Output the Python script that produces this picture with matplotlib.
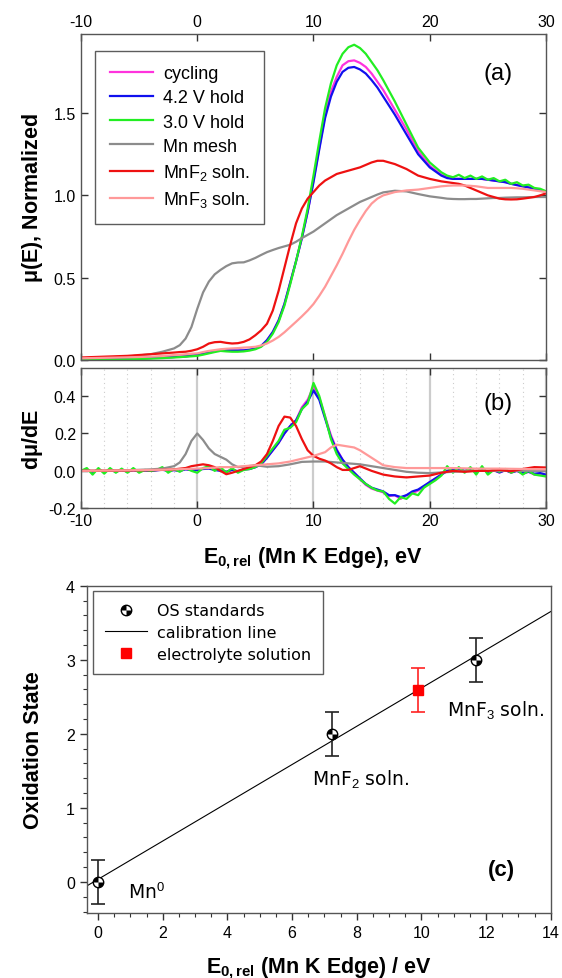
import matplotlib
matplotlib.use('Agg')
import matplotlib.pyplot as plt
from matplotlib.path import Path
from matplotlib.lines import Line2D
from matplotlib.legend_handler import HandlerTuple
import numpy as np

plt.rcParams['font.family'] = 'Liberation Sans'
plt.rcParams['mathtext.fontset'] = 'custom'
plt.rcParams['mathtext.rm'] = 'Liberation Sans'
plt.rcParams['mathtext.it'] = 'Liberation Sans:italic'
plt.rcParams['mathtext.bf'] = 'Liberation Sans:bold'
plt.rcParams['axes.unicode_minus'] = False

###
# (a) normalized XANES, mu(E)
###
e_mu = [-10, -8, -6, -4, -3, -2, -1.5, -1, -0.5, 0, 0.5, 1, 1.5, 2, 2.5, 3,
        3.5, 4, 4.5, 5, 5.5, 6, 6.5, 7, 7.5, 8, 8.5, 9, 9.5, 10, 10.5, 11,
        11.5, 12, 12.5, 13, 13.5, 14, 14.5, 15, 15.5, 16, 17, 18, 19, 20,
        21, 21.5, 22, 22.5, 23, 23.5, 24, 24.5, 25, 25.5, 26, 26.5, 27, 27.5,
        28, 28.5, 29, 29.5, 30]

mu_cycling = [0.005, 0.006, 0.008, 0.012, 0.015, 0.018, 0.02, 0.022, 0.026,
              0.03, 0.038, 0.045, 0.053, 0.06, 0.06, 0.058, 0.057, 0.058,
              0.062, 0.07, 0.085, 0.12, 0.17, 0.24, 0.34, 0.47, 0.6, 0.74,
              0.9, 1.09, 1.29, 1.49, 1.63, 1.72, 1.79, 1.815, 1.82, 1.805,
              1.78, 1.74, 1.69, 1.64, 1.52, 1.40, 1.27, 1.18, 1.125, 1.11,
              1.10, 1.10, 1.10, 1.10, 1.10, 1.10, 1.095, 1.09, 1.085, 1.08,
              1.07, 1.065, 1.055, 1.05, 1.04, 1.03, 1.025]
mu_hold42 = [0.005, 0.006, 0.008, 0.012, 0.015, 0.018, 0.02, 0.022, 0.026,
             0.03, 0.038, 0.045, 0.053, 0.06, 0.06, 0.058, 0.057, 0.058,
             0.062, 0.07, 0.085, 0.12, 0.17, 0.24, 0.34, 0.47, 0.6, 0.74,
             0.9, 1.08, 1.28, 1.47, 1.6, 1.69, 1.75, 1.775, 1.78, 1.765,
             1.74, 1.70, 1.655, 1.60, 1.49, 1.37, 1.25, 1.17, 1.12, 1.105,
             1.10, 1.10, 1.10, 1.10, 1.10, 1.10, 1.095, 1.09, 1.085, 1.08,
             1.07, 1.062, 1.055, 1.048, 1.04, 1.03, 1.022]
mu_hold30 = [0.0, 0.002, 0.004, 0.008, 0.011, 0.015, 0.017, 0.02, 0.022,
             0.025, 0.032, 0.04, 0.048, 0.055, 0.052, 0.05, 0.05, 0.052,
             0.057, 0.065, 0.08, 0.11, 0.16, 0.23, 0.33, 0.46, 0.6, 0.75,
             0.92, 1.12, 1.33, 1.53, 1.68, 1.79, 1.86, 1.90, 1.915, 1.895,
             1.86, 1.81, 1.76, 1.70, 1.57, 1.43, 1.29, 1.20, 1.14, 1.12,
             1.11, 1.125, 1.105, 1.12, 1.10, 1.115, 1.095, 1.105, 1.085,
             1.095, 1.07, 1.08, 1.06, 1.065, 1.045, 1.04, 1.025]
mu_mesh = [0.01, 0.015, 0.02, 0.035, 0.05, 0.07, 0.09, 0.13, 0.2, 0.31, 0.41,
           0.476, 0.52, 0.547, 0.57, 0.587, 0.592, 0.593, 0.605, 0.62, 0.638,
           0.655, 0.668, 0.68, 0.69, 0.70, 0.718, 0.74, 0.76, 0.78, 0.805,
           0.83, 0.855, 0.88, 0.90, 0.92, 0.94, 0.96, 0.975, 0.99, 1.005,
           1.018, 1.028, 1.024, 1.008, 0.994, 0.985, 0.98, 0.978, 0.977,
           0.977, 0.978, 0.978, 0.98, 0.982, 0.984, 0.984, 0.986, 0.987,
           0.988, 0.988, 0.989, 0.99, 0.99, 0.99]
mu_mnf2 = [0.015, 0.02, 0.025, 0.035, 0.04, 0.045, 0.048, 0.05, 0.056, 0.065,
           0.08, 0.1, 0.108, 0.11, 0.104, 0.1, 0.102, 0.11, 0.125, 0.15, 0.18,
           0.22, 0.3, 0.42, 0.56, 0.70, 0.83, 0.92, 0.98, 1.02, 1.06, 1.09,
           1.11, 1.13, 1.14, 1.15, 1.16, 1.17, 1.185, 1.20, 1.21, 1.21, 1.19,
           1.16, 1.12, 1.10, 1.085, 1.08, 1.075, 1.07, 1.06, 1.045, 1.03,
           1.015, 1.0, 0.99, 0.98, 0.976, 0.975, 0.976, 0.98, 0.985, 0.99,
           1.0, 1.012]
mu_mnf3 = [0.01, 0.013, 0.016, 0.02, 0.024, 0.03, 0.032, 0.035, 0.038, 0.04,
           0.048, 0.055, 0.06, 0.065, 0.068, 0.07, 0.072, 0.075, 0.077, 0.08,
           0.088, 0.1, 0.118, 0.14, 0.168, 0.2, 0.232, 0.265, 0.3, 0.34,
           0.39, 0.445, 0.51, 0.575, 0.645, 0.72, 0.79, 0.85, 0.905, 0.95,
           0.98, 1.0, 1.02, 1.03, 1.035, 1.045, 1.055, 1.058, 1.06, 1.06,
           1.06, 1.058, 1.055, 1.05, 1.045, 1.045, 1.045, 1.045, 1.045,
           1.043, 1.04, 1.035, 1.03, 1.025, 1.02]

###
# (b) first derivative, dmu/dE
###
e_d = [-10, -9.5, -9, -8.5, -8, -7.5, -7, -6.5, -6, -5.5, -5, -4.5, -4, -3.5,
       -3, -2.5, -2, -1.5, -1, -0.5, 0, 0.5, 1, 1.5, 2, 2.5, 3, 3.5, 4, 4.5,
       5, 5.5, 6, 6.5, 7, 7.5, 8, 8.5, 9, 9.5, 10, 10.5, 11, 11.5, 12, 12.5,
       13, 13.5, 14, 14.5, 15, 15.5, 16, 16.5, 17, 17.5, 18, 18.5, 19, 19.5,
       20, 20.5, 21, 21.5, 22, 22.5, 23, 23.5, 24, 24.5, 25, 25.5, 26, 26.5,
       27, 27.5, 28, 28.5, 29, 29.5, 30]

d_cycling = [0.0, 0.006, -0.006, 0.005, -0.005, 0.005, -0.004, 0.004, -0.004,
             0.005, -0.003, 0.003, 0.0, 0.004, 0.008, 0.0, 0.005, 0.0, 0.01,
             0.005, 0.005, 0.012, 0.015, 0.005, 0.005, -0.005, 0.008, -0.004,
             0.008, 0.01, 0.02, 0.035, 0.07, 0.11, 0.15, 0.2, 0.24, 0.27,
             0.34, 0.38, 0.45, 0.39, 0.29, 0.19, 0.115, 0.06, 0.02, -0.01,
             -0.045, -0.075, -0.095, -0.105, -0.115, -0.135, -0.13, -0.15,
             -0.13, -0.12, -0.105, -0.085, -0.06, -0.04, -0.02, 0.0, 0.005,
             0.012, -0.003, 0.01, -0.008, 0.01, -0.005, 0.005, -0.01, 0.005,
             -0.01, 0.0, -0.015, -0.005, -0.02, -0.015, -0.025]
d_hold42 = [0.0, 0.004, -0.004, 0.003, -0.003, 0.003, -0.003, 0.003, -0.003,
            0.003, -0.002, 0.002, 0.0, 0.003, 0.006, 0.0, 0.004, 0.0, 0.008,
            0.005, 0.005, 0.01, 0.012, 0.005, 0.0, -0.005, 0.005, -0.002,
            0.008, 0.01, 0.02, 0.035, 0.07, 0.11, 0.15, 0.2, 0.24, 0.27,
            0.33, 0.37, 0.43, 0.38, 0.28, 0.18, 0.11, 0.06, 0.02, -0.01,
            -0.04, -0.07, -0.09, -0.1, -0.11, -0.13, -0.13, -0.14, -0.13,
            -0.11, -0.1, -0.08, -0.06, -0.04, -0.02, 0.0, 0.005, 0.01, 0.0,
            0.008, -0.005, 0.008, -0.005, 0.003, -0.008, 0.003, -0.008, 0.0,
            -0.012, -0.005, -0.015, -0.012, -0.02]
d_hold30 = [0.0, 0.015, -0.02, 0.015, -0.015, 0.015, -0.01, 0.012, -0.01,
            0.015, -0.01, 0.005, 0.0, 0.005, 0.02, -0.01, 0.01, -0.005, 0.015,
            0.0, -0.01, 0.015, 0.025, 0.0, 0.02, -0.01, 0.015, -0.01, 0.005,
            0.01, 0.02, 0.04, 0.08, 0.12, 0.16, 0.22, 0.23, 0.26, 0.33, 0.36,
            0.47, 0.40, 0.29, 0.17, 0.09, 0.04, 0.01, -0.02, -0.045, -0.07,
            -0.09, -0.105, -0.11, -0.15, -0.175, -0.14, -0.15, -0.12, -0.13,
            -0.09, -0.07, -0.05, -0.025, 0.025, -0.01, 0.02, -0.01, 0.02,
            -0.02, 0.025, -0.02, 0.005, -0.005, 0.01, -0.01, 0.005, -0.02,
            0.0, -0.02, -0.025, -0.03]

e_mesh_d = [-10, -8, -6, -4, -3, -2, -1.5, -1, -0.5, 0, 0.5, 1, 1.5, 2, 2.5,
            3, 3.5, 4, 5, 6, 7, 8, 9, 10, 11, 12, 13, 14, 15, 16, 17, 18, 19,
            20, 22, 24, 26, 28, 30]
d_mesh = [0.0, 0.0, 0.003, 0.008, 0.012, 0.025, 0.045, 0.09, 0.16, 0.2, 0.165,
          0.12, 0.09, 0.075, 0.06, 0.035, 0.02, 0.022, 0.03, 0.022, 0.025,
          0.035, 0.048, 0.05, 0.05, 0.045, 0.04, 0.035, 0.025, 0.015, 0.005,
          -0.005, -0.01, -0.012, -0.005, 0.0, 0.0, 0.0, 0.0]

e_mnf2_d = [-10, -6, -3, -2, -1, -0.5, 0, 0.5, 1, 1.5, 2, 2.5, 3, 4, 5, 5.5,
            6, 6.5, 7, 7.5, 8, 8.5, 9, 9.5, 10, 10.5, 11, 11.5, 12, 12.5, 13,
            13.5, 14, 15, 16, 17, 18, 19, 20, 21, 22, 23, 24, 25, 26, 27, 28,
            29, 30]
d_mnf2 = [0.0, 0.002, 0.005, 0.008, 0.015, 0.025, 0.03, 0.035, 0.03, 0.02,
          0.0, -0.018, -0.01, 0.01, 0.03, 0.05, 0.09, 0.16, 0.24, 0.29, 0.285,
          0.24, 0.17, 0.11, 0.08, 0.065, 0.055, 0.04, 0.02, 0.005, 0.005,
          0.015, 0.025, 0.0, -0.02, -0.03, -0.035, -0.03, -0.025, -0.01, 0.0,
          -0.005, 0.0, 0.0, 0.005, -0.002, 0.01, 0.02, 0.018]

e_mnf3_d = [-10, -6, -3, -1, 0, 1, 2, 3, 4, 5, 6, 7, 8, 9, 10, 11, 11.5, 12,
            12.5, 13, 13.5, 14, 14.5, 15, 15.5, 16, 17, 18, 20, 22, 24, 26,
            28, 30]
d_mnf3 = [0.0, 0.003, 0.006, 0.01, 0.012, 0.015, 0.02, 0.02, 0.025, 0.03,
          0.035, 0.04, 0.05, 0.065, 0.08, 0.1, 0.125, 0.14, 0.135, 0.13, 0.125,
          0.11, 0.09, 0.07, 0.05, 0.03, 0.02, 0.015, 0.015, 0.015, 0.012,
          0.012, 0.01, 0.008]

labels_ab = ['cycling', '4.2 V hold', '3.0 V hold', 'Mn mesh',
             'MnF$_2$ soln.', 'MnF$_3$ soln.']
colors_ab = ['#ff33dd', '#1010ee', '#22ee22', '#8c8c8c', '#ee1111', '#ff9999']

###
# (c) oxidation state calibration
###
std_names = ['Mn$^0$', 'MnF$_2$ soln.', 'MnF$_3$ soln.']
std_e0 = [0.0, 7.25, 11.7]
std_os = [0, 2, 3]
std_err = [0.3, 0.3, 0.3]
sol_e0 = [9.88]
sol_os = [2.59]
sol_err = [0.3]


def plotOpts(ax):
    ax.tick_params(axis='both', which='major', direction='in', right=True,
                   top=True, length=5, width=1, colors='#333333',
                   labelcolor='black', labelsize=11.5)
    for sp in ax.spines.values():
        sp.set_color('#555555')
        sp.set_linewidth(1)


fig = plt.figure(figsize=(5.62, 9.79), dpi=100)
ax1 = fig.add_axes([0.1441, 0.6313, 0.8274, 0.3329])
ax2 = fig.add_axes([0.1441, 0.4798, 0.8274, 0.1433])
ax3 = fig.add_axes([0.1543, 0.0664, 0.8257, 0.3343])

mus = [mu_cycling, mu_hold42, mu_hold30, mu_mesh, mu_mnf2, mu_mnf3]
for m, c, l in zip(mus, colors_ab, labels_ab):
    ax1.plot(e_mu, m, color=c, lw=1.6, label=l)

ax1.set_xlim(-10, 30)
ax1.set_ylim(0, 1.98)
ax1.set_xticks([-10, 0, 10, 20, 30])
ax1.set_yticks([0.0, 0.5, 1.0, 1.5])
ax1.yaxis.set_major_formatter(matplotlib.ticker.FormatStrFormatter('%.1f'))
plotOpts(ax1)
ax1.tick_params(labeltop=True, labelbottom=False)
ax1.set_ylabel(r'$\mathbf{\mu}$(E), Normalized', fontsize=15.5,
               fontweight='bold', va='center')
ax1.yaxis.set_label_coords(-0.105, 0.5)
ax1.text(25.9, 1.746, '(a)', fontsize=17, ha='center', va='center')
leg1 = ax1.legend(loc='upper left', bbox_to_anchor=(0.0305, 0.949),
                  borderaxespad=0, fontsize=13, frameon=True, fancybox=False,
                  edgecolor='#333333', handlelength=2.4, handletextpad=0.55,
                  labelspacing=0.4, borderpad=0.8)
leg1.get_frame().set_linewidth(1)

# derivative panel
ax2.plot(e_d, d_cycling, color=colors_ab[0], lw=1.6)
ax2.plot(e_d, d_hold42, color=colors_ab[1], lw=1.6)
ax2.plot(e_d, d_hold30, color=colors_ab[2], lw=1.6)
ax2.plot(e_mesh_d, d_mesh, color=colors_ab[3], lw=1.6)
ax2.plot(e_mnf2_d, d_mnf2, color=colors_ab[4], lw=1.6)
ax2.plot(e_mnf3_d, d_mnf3, color=colors_ab[5], lw=1.6)

ax2.set_xlim(-10, 30)
ax2.set_ylim(-0.2, 0.55)
ax2.set_xticks([-10, 0, 10, 20, 30])
ax2.set_xticks(np.arange(-8, 30, 2), minor=True)
ax2.set_yticks([-0.2, 0.0, 0.2, 0.4])
ax2.yaxis.set_major_formatter(matplotlib.ticker.FormatStrFormatter('%.1f'))
ax2.grid(axis='x', which='major', color='#cccccc', lw=1.6, zorder=0)
ax2.grid(axis='x', which='minor', color='#cccccc', lw=0.8, ls=(0, (1, 3)),
         zorder=0)
ax2.set_axisbelow(True)
plotOpts(ax2)
ax2.tick_params(which='minor', length=0)
ax2.set_ylabel(r'd$\mathbf{\mu}$/dE', fontsize=15.5, fontweight='bold',
               va='center')
ax2.yaxis.set_label_coords(-0.105, 0.5)
ax2.set_xlabel(r'E$_{\mathbf{0,rel}}$ (Mn K Edge), eV', fontsize=15.5,
               fontweight='bold', va='center')
ax2.xaxis.set_label_coords(0.5, -0.35)
ax2.text(25.9, 0.365, '(b)', fontsize=17, ha='center', va='center')

###
# (c) calibration
###
slope, icept = np.polyfit(std_e0, std_os, 1)
xl = np.array([-0.35, 14])
ax3.plot(xl, slope * xl + icept, color='black', lw=0.8, zorder=2)

ax3.errorbar(std_e0, std_os, yerr=std_err, fmt='none', ecolor='#222222',
             elinewidth=1.2, capsize=5, capthick=1.2, zorder=3)
ax3.errorbar(sol_e0, sol_os, yerr=sol_err, fmt='none', ecolor='#ff2222',
             elinewidth=1.2, capsize=5, capthick=1.2, zorder=3)

quad = Path.make_compound_path(Path.wedge(90, 180), Path.wedge(270, 360))
ax3.plot(std_e0, std_os, 'o', ms=7.5, mfc='white', mec='black', mew=1.0,
         zorder=4)
ax3.plot(std_e0, std_os, ls='none', marker=quad, ms=7.5, mfc='black',
         mec='black', mew=0, zorder=5)
ax3.plot(sol_e0, sol_os, 's', ms=6.5, color='#ff0000', zorder=5)

ax3.set_xlim(-0.35, 14)
ax3.set_ylim(-0.42, 4)
ax3.set_xticks(range(0, 15, 2))
ax3.set_xticks(np.arange(0, 14.01, 0.5), minor=True)
ax3.set_yticks(range(0, 5))
ax3.set_yticks(np.arange(-0.4, 4.01, 0.2), minor=True)
ax3.tick_params(which='major', direction='out', length=5, width=1,
                colors='#333333', labelcolor='black', labelsize=11.5)
ax3.tick_params(which='minor', direction='out', length=3, width=0.8,
                colors='#333333')
for sp in ax3.spines.values():
    sp.set_color('#555555')
    sp.set_linewidth(1)

ax3.set_ylabel('Oxidation State', fontsize=15.5, fontweight='bold',
               va='center')
ax3.yaxis.set_label_coords(-0.115, 0.5)
ax3.set_xlabel(r'E$_{\mathbf{0,rel}}$ (Mn K Edge) / eV', fontsize=15.5,
               fontweight='bold', va='center')
ax3.xaxis.set_label_coords(0.5, -0.165)

name_pos = [(0.93, -0.135), (6.63, 1.40), (10.8, 2.33)]
for name, (tx, ty) in zip(std_names, name_pos):
    ax3.text(tx, ty, name, fontsize=13.5, family='DejaVu Sans',
             ha='left', va='center')
ax3.text(12.47, 0.17, '(c)', fontsize=16, fontweight='bold', ha='center',
         va='center')

h_std = (Line2D([], [], ls='none', marker='o', ms=7.5, mfc='white',
                mec='black', mew=1.0),
         Line2D([], [], ls='none', marker=quad, ms=7.5, mfc='black', mew=0))
h_line = Line2D([], [], color='black', lw=0.8)
h_sol = Line2D([], [], ls='none', marker='s', ms=6.5, color='#ff0000')
leg3 = ax3.legend([h_std, h_line, h_sol],
                  ['OS standards', 'calibration line', 'electrolyte solution'],
                  handler_map={tuple: HandlerTuple(ndivide=1, pad=0)},
                  loc='upper left', bbox_to_anchor=(0.0146, 0.983),
                  borderaxespad=0,
                  prop={'family': 'DejaVu Sans', 'size': 11.5},
                  frameon=True, fancybox=False, edgecolor='#333333',
                  handlelength=2.6, handletextpad=0.6, labelspacing=0.42,
                  borderpad=0.75)
leg3.get_frame().set_linewidth(1)

plt.savefig('out.png', dpi=100)
